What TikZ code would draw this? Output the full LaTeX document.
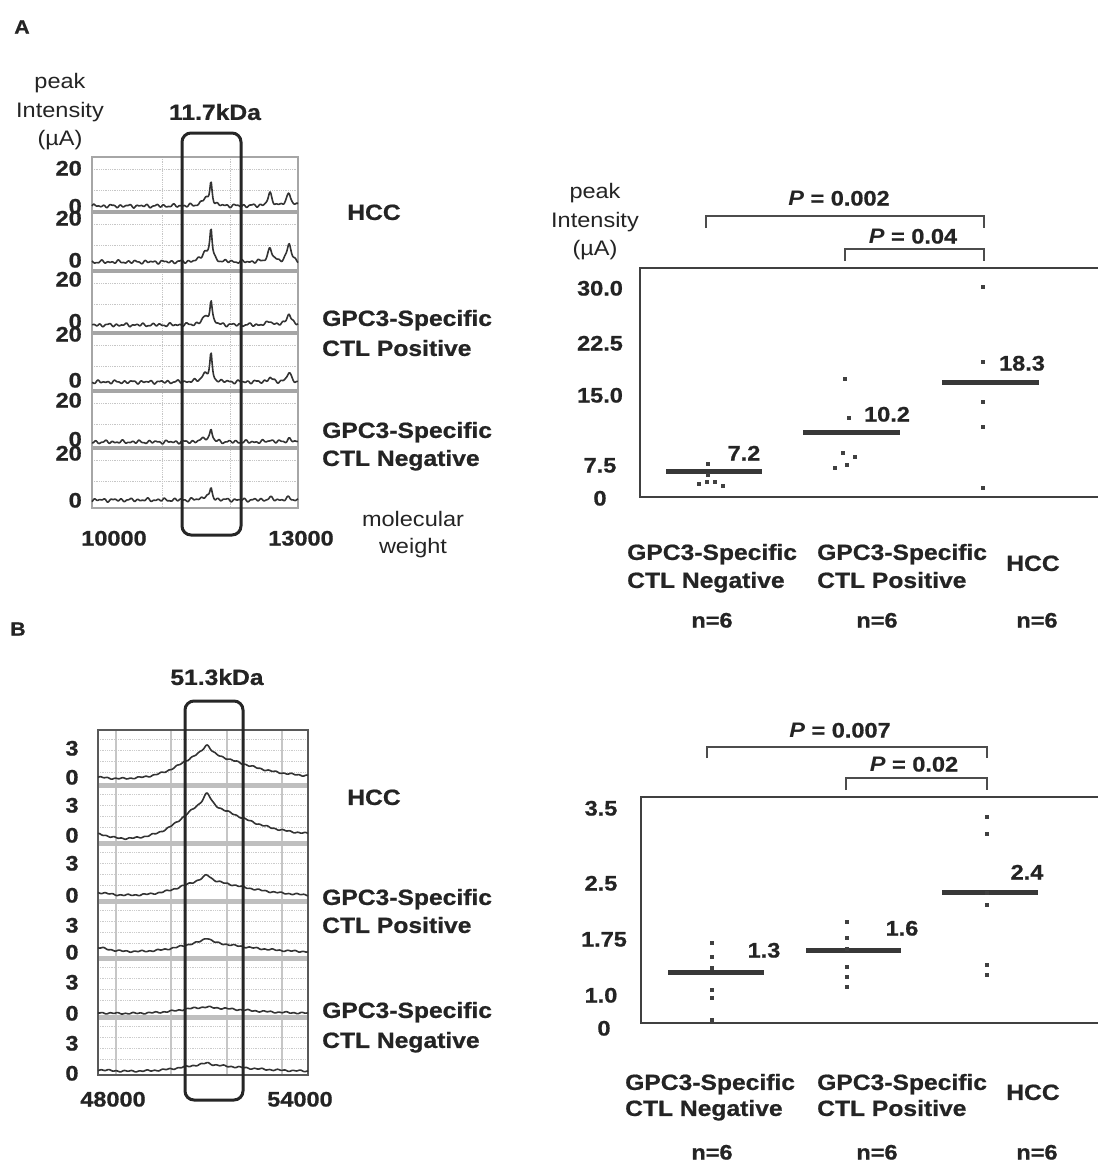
\documentclass[tikz,border=0pt]{standalone}
\usepackage{fontspec}
\setmainfont{Liberation Sans}[FakeStretch=1.12, BoldFeatures={FakeBold=0.8}]
\definecolor{ink}{gray}{0.14}
\begin{document}
\begin{tikzpicture}[x=1pt,y=-1pt,
  declare function={
    lor(\x,\c,\w)=1/(1+((\x-\c)/\w)^2);
    nzA(\x,\s)=0.9*sin(41*(\x-92)+\s)+0.7*sin(67*(\x-92)+2*\s)+0.6*sin(23*(\x-92)+3*\s);
    specA(\x,\h,\ra,\rb,\s)=nzA(\x,\s)+\h*lor(\x,211,1.4)+0.3*\h*lor(\x,205,4)+\ra*lor(\x,270,2.5)+\rb*lor(\x,289,2.5);
    bump(\x)=1/(1+((\x-203)/ifthenelse(\x<203,45,80))^2)^2;
    specB(\x,\H,\f,\d,\s)=\H*((1-\f)*bump(\x)+\f*lor(\x,207,5))+\d*lor(\x,98,15)+0.5*sin(47*(\x-98)+\s)+0.4*sin(19*(\x-98)+2*\s);
  },
  lbl/.style={font=\fontsize{22}{24}\selectfont\bfseries, text=ink, inner sep=0pt, text height=15.8pt, text depth=0pt},
  tick/.style={font=\fontsize{21}{23}\selectfont\bfseries, text=ink, inner sep=0pt, text height=15pt, text depth=0pt},
  reg/.style={font=\fontsize{21}{23}\selectfont, text=ink, inner sep=0pt, anchor=base},
  letter/.style={font=\fontsize{19}{21}\selectfont\bfseries, text=ink, inner sep=0pt},
  gridA/.style={gray!45, line width=0.8pt, densely dotted},
  sepA/.style={gray!70, line width=4pt},
  frameA/.style={gray!70, line width=1.6pt},
  gridBh/.style={gray!40, line width=0.8pt, densely dotted},
  gridBv/.style={gray!45, line width=2pt},
  sepB/.style={gray!50, line width=5pt},
  frameB/.style={black!65, line width=2.4pt},
  trace/.style={black!80, line width=1.6pt, line join=round},
  window/.style={black!85, line width=3pt, rounded corners=9pt},
  box/.style={black!75, line width=2.4pt},
  brk/.style={black!70, line width=1.8pt},
  mean/.style={black!78, line width=5pt},
  dotA/.style={black!75},
]
\useasboundingbox (0,0) rectangle (1098,1171);
\fill[white] (0,0) rectangle (1098,1171);

% panel letters
\node[letter] (letA) at (22,27) {A};
\node[letter] (letB) at (18,629) {B};

% ================= Panel A spectra =================
\foreach \t in {157,212,271,333,391,448} {
  \draw[gridA] (92,\t+12) -- (298,\t+12);
  \draw[gridA] (92,\t+33) -- (298,\t+33);
}
\foreach \x in {162,230} \draw[gridA] (\x,157) -- (\x,508);
\foreach \t in {212,271,333,391,448} \draw[sepA] (92,\t) -- (298,\t);
\draw[frameA] (92,157) rectangle (298,508);

\draw[trace] plot[domain=92:298,samples=260] (\x,{206-specA(\x,23,12,13,0)});
\draw[trace] plot[domain=92:298,samples=260] (\x,{262-specA(\x,32,14,18,70)});
\draw[trace] plot[domain=92:298,samples=260] (\x,{325-specA(\x,24,4,12,140)});
\draw[trace] plot[domain=92:298,samples=260] (\x,{382-specA(\x,26,4,9,210)});
\draw[trace] plot[domain=92:298,samples=260] (\x,{442-specA(\x,12,2,3,280)});
\draw[trace] plot[domain=92:298,samples=260] (\x,{500-specA(\x,11,2,2,330)});

\draw[window] (182,133) rectangle (241,535);

% axis text A
\node[reg, anchor=base] (aY1) at (60,88) {peak};
\node[reg, anchor=base] (aY2) at (60,117) {Intensity};
\node[reg, anchor=base] (aY3) at (60,145) {(µA)};
\node[lbl] (kdaA) at (215,112) {11.7kDa};
\node[tick, anchor=east] (a20a) at (82,168) {20};
\node[tick, anchor=east] (a0a)  at (82,206) {0};
\node[tick, anchor=east] (a20b) at (82,218) {20};
\node[tick, anchor=east] (a0b)  at (82,260) {0};
\node[tick, anchor=east] (a20c) at (82,279) {20};
\node[tick, anchor=east] (a0c)  at (82,321) {0};
\node[tick, anchor=east] (a20d) at (82,334) {20};
\node[tick, anchor=east] (a0d)  at (82,380) {0};
\node[tick, anchor=east] (a20e) at (82,400) {20};
\node[tick, anchor=east] (a0e)  at (82,439) {0};
\node[tick, anchor=east] (a20f) at (82,453) {20};
\node[tick, anchor=east] (a0f)  at (82,500) {0};
\node[tick] (aX1) at (114,538) {10000};
\node[tick] (aX2) at (301,538) {13000};
\node[reg, anchor=base] (aMW1) at (413,526) {molecular};
\node[reg, anchor=base] (aMW2) at (413,553) {weight};
\node[lbl] (aHCC) at (374,212) {HCC};
\node[lbl, anchor=west] (aPos1) at (322,318) {GPC3-Specific};
\node[lbl, anchor=west] (aPos2) at (322,348) {CTL Positive};
\node[lbl, anchor=west] (aNeg1) at (322,430) {GPC3-Specific};
\node[lbl, anchor=west] (aNeg2) at (322,458) {CTL Negative};

% ================= Panel A scatter =================
\node[reg, anchor=base] (sY1) at (595,198) {peak};
\node[reg, anchor=base] (sY2) at (595,227) {Intensity};
\node[reg, anchor=base] (sY3) at (595,255) {(µA)};
\draw[box] (1098,268) -- (640,268) -- (640,497) -- (1098,497);
\node[tick] (s30) at (600,288) {30.0};
\node[tick] (s22) at (600,343) {22.5};
\node[tick] (s15) at (600,395) {15.0};
\node[tick] (s75) at (600,465) {7.5};
\node[tick] (s0)  at (600,498) {0};
\draw[brk] (706,228) -- (706,216) -- (984,216) -- (984,228);
\draw[brk] (845,261) -- (845,249) -- (984,249) -- (984,261);
\node[tick] (pA1) at (839,198) {{\itshape P} = 0.002};
\node[tick] (pA2) at (913,236) {{\itshape P} = 0.04};
\draw[mean] (666,471) -- (762,471);
\draw[mean] (803,432) -- (900,432);
\draw[mean] (942,382) -- (1039,382);
\foreach \p in {(708,464),(708,475),(699,484),(707,482),(715,482),(723,486),
                (845,379),(849,418),(843,453),(855,457),(847,465),(835,468),
                (983,287),(983,362),(983,402),(983,427),(983,488)}
  \fill[dotA] \p ++(-2.2,-2.2) rectangle ++(4.4,4.4);
\node[tick] (mA1) at (744,453) {7.2};
\node[tick] (mA2) at (887,414) {10.2};
\node[tick] (mA3) at (1022,363) {18.3};
\node[lbl, anchor=west] (gA1a) at (627,552) {GPC3-Specific};
\node[lbl, anchor=west] (gA1b) at (627,580) {CTL Negative};
\node[lbl, anchor=west] (gA2a) at (817,552) {GPC3-Specific};
\node[lbl, anchor=west] (gA2b) at (817,580) {CTL Positive};
\node[lbl] (gA3) at (1033,563) {HCC};
\node[tick] (nA1) at (712,620) {n=6};
\node[tick] (nA2) at (877,620) {n=6};
\node[tick] (nA3) at (1037,620) {n=6};

% ================= Panel B spectra =================
\foreach \t in {730,785,843,901,958,1017} {
  \foreach \d in {9,20,31,42} \draw[gridBh] (98,\t+\d) -- (308,\t+\d);
}
\foreach \x in {116,171,227,282} \draw[gridBv] (\x,730) -- (\x,1075);
\foreach \t in {785,843,901,958,1017} \draw[sepB] (98,\t) -- (308,\t);
\draw[frameB] (98,730) rectangle (308,1075);

\draw[trace] plot[domain=98:308,samples=220] (\x,{781-2*(\x-98)/210-specB(\x,35,0.3,3,0)});
\draw[trace] plot[domain=98:308,samples=220] (\x,{843-5*(\x-98)/210-specB(\x,47,0.3,8,60)});
\draw[trace] plot[domain=98:308,samples=220] (\x,{897-specB(\x,22,0.3,4,120)});
\draw[trace] plot[domain=98:308,samples=220] (\x,{953-specB(\x,15,0.35,5,180)});
\draw[trace] plot[domain=98:308,samples=220] (\x,{1014-specB(\x,7,0.1,1,240)});
\draw[trace] plot[domain=98:308,samples=220] (\x,{1072-specB(\x,9,0.25,2,300)});

\draw[window] (185,701) rectangle (243,1100);

\node[lbl] (kdaB) at (217,677) {51.3kDa};
\node[tick] (b3a) at (72,748) {3};
\node[tick] (b0a) at (72,777) {0};
\node[tick] (b3b) at (72,805) {3};
\node[tick] (b0b) at (72,835) {0};
\node[tick] (b3c) at (72,863) {3};
\node[tick] (b0c) at (72,895) {0};
\node[tick] (b3d) at (72,925) {3};
\node[tick] (b0d) at (72,952) {0};
\node[tick] (b3e) at (72,982) {3};
\node[tick] (b0e) at (72,1013) {0};
\node[tick] (b3f) at (72,1043) {3};
\node[tick] (b0f) at (72,1073) {0};
\node[tick] (bX1) at (113,1099) {48000};
\node[tick] (bX2) at (300,1099) {54000};
\node[lbl] (bHCC) at (374,797) {HCC};
\node[lbl, anchor=west] (bPos1) at (322,897) {GPC3-Specific};
\node[lbl, anchor=west] (bPos2) at (322,925) {CTL Positive};
\node[lbl, anchor=west] (bNeg1) at (322,1010) {GPC3-Specific};
\node[lbl, anchor=west] (bNeg2) at (322,1040) {CTL Negative};

% ================= Panel B scatter =================
\draw[box] (1098,797) -- (641,797) -- (641,1023) -- (1098,1023);
\node[tick] (t35) at (601,808) {3.5};
\node[tick] (t25) at (601,883) {2.5};
\node[tick] (t175) at (604,939) {1.75};
\node[tick] (t10) at (601,995) {1.0};
\node[tick] (t0) at (604,1028) {0};
\draw[brk] (707,758) -- (707,747) -- (987,747) -- (987,758);
\draw[brk] (846,790) -- (846,778) -- (987,778) -- (987,790);
\node[tick] (pB1) at (840,730) {{\itshape P} = 0.007};
\node[tick] (pB2) at (914,764) {{\itshape P} = 0.02};
\draw[mean] (668,972) -- (764,972);
\draw[mean] (806,950) -- (901,950);
\draw[mean] (942,892) -- (1038,892);
\foreach \p in {(712,943),(712,957),(712,968),(712,990),(712,998),(712,1020),
                (847,922),(847,938),(847,949),(847,967),(847,977),(847,987),
                (987,817),(987,834),(987,893),(987,905),(987,965),(987,975)}
  \fill[dotA] \p ++(-1.8,-1.8) rectangle ++(3.6,3.6);
\node[tick] (mB1) at (764,950) {1.3};
\node[tick] (mB2) at (902,928) {1.6};
\node[tick] (mB3) at (1027,872) {2.4};
\node[lbl, anchor=west] (gB1a) at (625,1082) {GPC3-Specific};
\node[lbl, anchor=west] (gB1b) at (625,1108) {CTL Negative};
\node[lbl, anchor=west] (gB2a) at (817,1082) {GPC3-Specific};
\node[lbl, anchor=west] (gB2b) at (817,1108) {CTL Positive};
\node[lbl] (gB3) at (1033,1092) {HCC};
\node[tick] (nB1) at (712,1152) {n=6};
\node[tick] (nB2) at (877,1152) {n=6};
\node[tick] (nB3) at (1037,1152) {n=6};
\end{tikzpicture}
\end{document}
